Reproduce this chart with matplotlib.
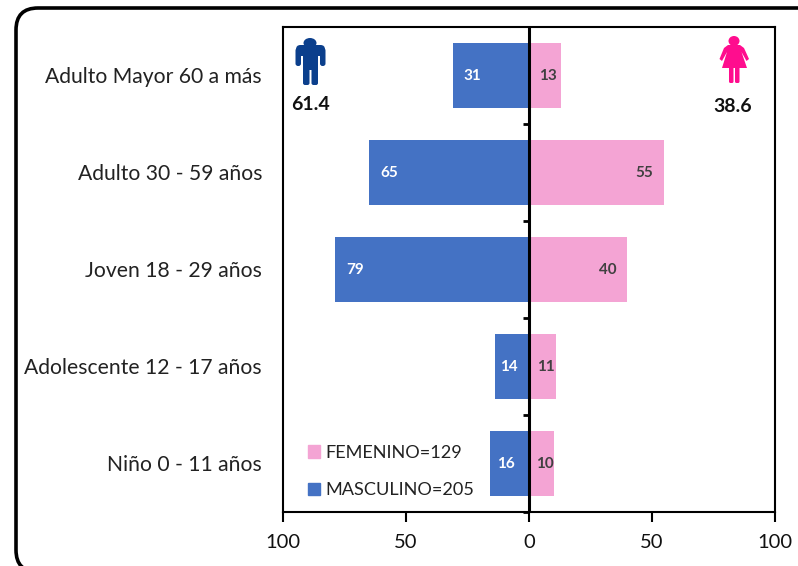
import matplotlib
matplotlib.use("Agg")
import matplotlib.pyplot as plt
from matplotlib.patches import FancyBboxPatch, Polygon, Rectangle, Ellipse
from matplotlib.transforms import Affine2D

categories = ["Niño 0 - 11 años", "Adolescente 12 - 17 años", "Joven 18 - 29 años",
              "Adulto 30 - 59 años", "Adulto Mayor 60 a más"]
masculino = [16, 14, 79, 65, 31]
femenino = [10, 11, 40, 55, 13]
tick_values = [-100, -50, 0, 50, 100]
tick_labels = ["100", "50", "0", "50", "100"]
legend_labels = ["FEMENINO=129", "MASCULINO=205"]
pct_m = "61.4"
pct_f = "38.6"

W, H = 798, 566
plt.rcParams["font.family"] = ["Lato", "DejaVu Sans"]
fig = plt.figure(figsize=(W / 100, H / 100), dpi=100, facecolor="white")

px = Affine2D().scale(1, -1).translate(0, H)  # pixel coords, y downward
fig.add_artist(FancyBboxPatch((16, 8), 860, 564, boxstyle="round,pad=0,rounding_size=22",
                              transform=px, fc="white", ec="black", lw=2.6, zorder=-5))

ax = fig.add_axes([283 / W, 1 - 512 / H, (775 - 283) / W, (512 - 27) / H])
ax.patch.set_alpha(0)
ypos = list(range(len(categories)))
BLUE, PINK = "#4472C4", "#F4A4D4"
ax.barh(ypos, [-v for v in masculino], height=0.67, color=BLUE)
ax.barh(ypos, femenino, height=0.67, color=PINK)
ax.set_xlim(-100, 100)
ax.set_ylim(-0.5, len(categories) - 0.5)

for s in ax.spines.values():
    s.set_linewidth(1.5)
ax.set_xticks(tick_values, tick_labels, fontsize=14.5)
ax.tick_params(axis="x", length=7, width=1.5, pad=8.5, color="black", labelcolor="#111111")

ax.set_yticks([])
ax.axvline(-0.2, color="black", lw=2.2, zorder=5)
for b in [y + 0.5 for y in ypos[:-1]] + [-0.5]:
    ax.plot([-2.6, 0], [b, b], color="black", lw=2, zorder=5, solid_capstyle="butt", clip_on=False)

ytrans = ax.get_yaxis_transform()
for y, c in zip(ypos, categories):
    ax.text(-0.0425, y - 0.012, c, transform=ytrans, ha="right", va="center", fontsize=15.2, color="#222222")

for y, m, f in zip(ypos, masculino, femenino):
    if m > 20:
        ax.annotate(str(m), (-m, y), xytext=(8, -0.7), textcoords="offset points", ha="left", va="center",
                    color="white", fontsize=11, fontweight="bold", zorder=6)
    else:
        ax.text(-m / 2 - 1.2, y - 0.01, str(m), ha="center", va="center", color="white", fontsize=11,
                fontweight="bold", zorder=6)
    if f > 20:
        ax.annotate(str(f), (f, y), xytext=(-8, -0.7), textcoords="offset points", ha="right", va="center",
                    color="#404040", fontsize=11, fontweight="bold", zorder=6)
    else:
        ax.text(f / 2 + 1.3, y - 0.01, str(f), ha="center", va="center", color="#404040", fontsize=11,
                fontweight="bold", zorder=6)

handles = [Rectangle((0, 0), 1, 1, color=PINK), Rectangle((0, 0), 1, 1, color=BLUE)]
ax.legend(handles, legend_labels, loc="lower left", bbox_to_anchor=(0.0395, 0.0175), frameon=False, fontsize=13.1,
          handlelength=0.66, handleheight=0.66, handletextpad=0.28, labelspacing=1.16, labelcolor="#222222",
          borderpad=0.3, borderaxespad=0)

# Pictograms (pixel coordinates)
NAVY, MAG = "#0B3F8C", "#FF0D8E"
def add(p):
    p.set_transform(px); p.set_clip_on(False); p.set_zorder(7); fig.add_artist(p)

add(Ellipse((310, 43), 13, 10, fc=NAVY, ec="none"))
add(FancyBboxPatch((296, 45), 29, 11, boxstyle="round,pad=0,rounding_size=4.5", fc=NAVY, ec="none"))
add(FancyBboxPatch((295.5, 48), 5.5, 18, boxstyle="round,pad=0,rounding_size=2.5", fc=NAVY, ec="none"))
add(FancyBboxPatch((320, 48), 5.5, 18, boxstyle="round,pad=0,rounding_size=2.5", fc=NAVY, ec="none"))
add(FancyBboxPatch((303, 48), 15, 22, boxstyle="round,pad=0,rounding_size=1", fc=NAVY, ec="none"))
add(FancyBboxPatch((303, 62), 6.5, 23, boxstyle="round,pad=0,rounding_size=2", fc=NAVY, ec="none"))
add(FancyBboxPatch((311.5, 62), 6.5, 23, boxstyle="round,pad=0,rounding_size=2", fc=NAVY, ec="none"))

add(Ellipse((734, 41), 11, 10, fc=MAG, ec="none"))
add(Polygon([(728, 45), (740, 45), (744, 48), (749, 59), (746.5, 61), (741.5, 52), (747, 68),
             (722, 68), (727, 52), (722, 61), (719.5, 59), (724, 48)], fc=MAG, ec="none"))
add(FancyBboxPatch((729, 66), 4.5, 17, boxstyle="round,pad=0,rounding_size=1.5", fc=MAG, ec="none"))
add(FancyBboxPatch((735, 66), 4.5, 17, boxstyle="round,pad=0,rounding_size=1.5", fc=MAG, ec="none"))

fig.text(310 / W, 1 - 104 / H, pct_m, ha="center", va="center", fontsize=14, fontweight="bold", color="#111111")
fig.text(733 / W, 1 - 106 / H, pct_f, ha="center", va="center", fontsize=14, fontweight="bold", color="#111111")

fig.savefig("out.png", dpi=100, facecolor="white")
